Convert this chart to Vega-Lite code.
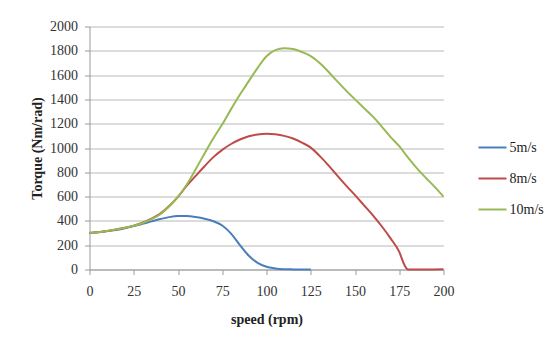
{
  "$schema": "https://vega.github.io/schema/vega-lite/v6.json",
  "autosize": "none",
  "width": 354,
  "height": 243,
  "padding": {"left": 89.5, "top": 26.5, "right": 111.5, "bottom": 78.5},
  "background": "white",
  "config": {
    "view": {"stroke": null},
    "font": "Times New Roman, Liberation Serif, serif",
    "axis": {"labelFont": "Times New Roman, Liberation Serif, serif", "titleFont": "Times New Roman, Liberation Serif, serif"},
    "legend": {"labelFont": "Times New Roman, Liberation Serif, serif"}
  },
  "data": {
    "values": [
      {"speed": 0, "torque": 300, "series": "5m/s"},
      {"speed": 5, "torque": 306, "series": "5m/s"},
      {"speed": 10, "torque": 316, "series": "5m/s"},
      {"speed": 15, "torque": 326, "series": "5m/s"},
      {"speed": 20, "torque": 340, "series": "5m/s"},
      {"speed": 25, "torque": 358, "series": "5m/s"},
      {"speed": 30, "torque": 376, "series": "5m/s"},
      {"speed": 35, "torque": 396, "series": "5m/s"},
      {"speed": 40, "torque": 415, "series": "5m/s"},
      {"speed": 45, "torque": 431, "series": "5m/s"},
      {"speed": 50, "torque": 440, "series": "5m/s"},
      {"speed": 55, "torque": 441, "series": "5m/s"},
      {"speed": 60, "torque": 432, "series": "5m/s"},
      {"speed": 65, "torque": 418, "series": "5m/s"},
      {"speed": 70, "torque": 397, "series": "5m/s"},
      {"speed": 75, "torque": 362, "series": "5m/s"},
      {"speed": 80, "torque": 295, "series": "5m/s"},
      {"speed": 85, "torque": 200, "series": "5m/s"},
      {"speed": 90, "torque": 113, "series": "5m/s"},
      {"speed": 95, "torque": 54, "series": "5m/s"},
      {"speed": 100, "torque": 22, "series": "5m/s"},
      {"speed": 105, "torque": 9, "series": "5m/s"},
      {"speed": 110, "torque": 3, "series": "5m/s"},
      {"speed": 115, "torque": 1, "series": "5m/s"},
      {"speed": 120, "torque": 0, "series": "5m/s"},
      {"speed": 125, "torque": 0, "series": "5m/s"},

      {"speed": 0, "torque": 300, "series": "8m/s"},
      {"speed": 10, "torque": 316, "series": "8m/s"},
      {"speed": 20, "torque": 343, "series": "8m/s"},
      {"speed": 25, "torque": 360, "series": "8m/s"},
      {"speed": 30, "torque": 385, "series": "8m/s"},
      {"speed": 35, "torque": 418, "series": "8m/s"},
      {"speed": 40, "torque": 460, "series": "8m/s"},
      {"speed": 45, "torque": 522, "series": "8m/s"},
      {"speed": 50, "torque": 598, "series": "8m/s"},
      {"speed": 55, "torque": 690, "series": "8m/s"},
      {"speed": 60, "torque": 770, "series": "8m/s"},
      {"speed": 65, "torque": 850, "series": "8m/s"},
      {"speed": 70, "torque": 925, "series": "8m/s"},
      {"speed": 75, "torque": 985, "series": "8m/s"},
      {"speed": 80, "torque": 1033, "series": "8m/s"},
      {"speed": 85, "torque": 1070, "series": "8m/s"},
      {"speed": 90, "torque": 1097, "series": "8m/s"},
      {"speed": 95, "torque": 1112, "series": "8m/s"},
      {"speed": 100, "torque": 1118, "series": "8m/s"},
      {"speed": 105, "torque": 1113, "series": "8m/s"},
      {"speed": 110, "torque": 1100, "series": "8m/s"},
      {"speed": 115, "torque": 1078, "series": "8m/s"},
      {"speed": 120, "torque": 1045, "series": "8m/s"},
      {"speed": 125, "torque": 1003, "series": "8m/s"},
      {"speed": 130, "torque": 935, "series": "8m/s"},
      {"speed": 135, "torque": 857, "series": "8m/s"},
      {"speed": 140, "torque": 772, "series": "8m/s"},
      {"speed": 145, "torque": 690, "series": "8m/s"},
      {"speed": 150, "torque": 612, "series": "8m/s"},
      {"speed": 155, "torque": 530, "series": "8m/s"},
      {"speed": 160, "torque": 448, "series": "8m/s"},
      {"speed": 165, "torque": 358, "series": "8m/s"},
      {"speed": 170, "torque": 258, "series": "8m/s"},
      {"speed": 175, "torque": 145, "series": "8m/s"},
      {"speed": 178, "torque": 35, "series": "8m/s"},
      {"speed": 180, "torque": 0, "series": "8m/s"},
      {"speed": 190, "torque": 0, "series": "8m/s"},
      {"speed": 200, "torque": 2, "series": "8m/s"},

      {"speed": 0, "torque": 300, "series": "10m/s"},
      {"speed": 10, "torque": 316, "series": "10m/s"},
      {"speed": 20, "torque": 343, "series": "10m/s"},
      {"speed": 25, "torque": 360, "series": "10m/s"},
      {"speed": 30, "torque": 383, "series": "10m/s"},
      {"speed": 35, "torque": 415, "series": "10m/s"},
      {"speed": 40, "torque": 455, "series": "10m/s"},
      {"speed": 45, "torque": 518, "series": "10m/s"},
      {"speed": 50, "torque": 600, "series": "10m/s"},
      {"speed": 55, "torque": 700, "series": "10m/s"},
      {"speed": 60, "torque": 825, "series": "10m/s"},
      {"speed": 65, "torque": 955, "series": "10m/s"},
      {"speed": 70, "torque": 1080, "series": "10m/s"},
      {"speed": 75, "torque": 1195, "series": "10m/s"},
      {"speed": 80, "torque": 1320, "series": "10m/s"},
      {"speed": 85, "torque": 1440, "series": "10m/s"},
      {"speed": 90, "torque": 1550, "series": "10m/s"},
      {"speed": 95, "torque": 1660, "series": "10m/s"},
      {"speed": 100, "torque": 1755, "series": "10m/s"},
      {"speed": 105, "torque": 1805, "series": "10m/s"},
      {"speed": 110, "torque": 1820, "series": "10m/s"},
      {"speed": 115, "torque": 1815, "series": "10m/s"},
      {"speed": 120, "torque": 1790, "series": "10m/s"},
      {"speed": 125, "torque": 1757, "series": "10m/s"},
      {"speed": 130, "torque": 1700, "series": "10m/s"},
      {"speed": 135, "torque": 1628, "series": "10m/s"},
      {"speed": 140, "torque": 1548, "series": "10m/s"},
      {"speed": 145, "torque": 1472, "series": "10m/s"},
      {"speed": 150, "torque": 1400, "series": "10m/s"},
      {"speed": 155, "torque": 1330, "series": "10m/s"},
      {"speed": 160, "torque": 1260, "series": "10m/s"},
      {"speed": 165, "torque": 1178, "series": "10m/s"},
      {"speed": 170, "torque": 1092, "series": "10m/s"},
      {"speed": 175, "torque": 1015, "series": "10m/s"},
      {"speed": 180, "torque": 920, "series": "10m/s"},
      {"speed": 185, "torque": 832, "series": "10m/s"},
      {"speed": 190, "torque": 755, "series": "10m/s"},
      {"speed": 195, "torque": 680, "series": "10m/s"},
      {"speed": 200, "torque": 600, "series": "10m/s"}
    ]
  },
  "mark": {"type": "line", "interpolate": "monotone", "strokeWidth": 2},
  "encoding": {
    "x": {
      "field": "speed",
      "type": "quantitative",
      "scale": {"domain": [0, 200], "nice": false},
      "axis": {
        "values": [0, 25, 50, 75, 100, 125, 150, 175, 200],
        "format": "d",
        "labelFlush": false,
        "title": "speed (rpm)",
        "titleFontSize": 14,
        "titleFontWeight": "bold",
        "titleColor": "#222222",
        "titlePadding": 14,
        "labelFontSize": 14,
        "labelColor": "#333333",
        "labelPadding": 10,
        "grid": false,
        "domainColor": "#9a9a9a",
        "tickColor": "#9a9a9a",
        "tickSize": 5
      }
    },
    "y": {
      "field": "torque",
      "type": "quantitative",
      "scale": {"domain": [0, 2000], "nice": false},
      "axis": {
        "values": [0, 200, 400, 600, 800, 1000, 1200, 1400, 1600, 1800, 2000],
        "format": "d",
        "labelFlush": false,
        "title": "Torque (Nm/rad)",
        "titleFontSize": 14,
        "titleFontWeight": "bold",
        "titleColor": "#222222",
        "titlePadding": 5,
        "labelFontSize": 14,
        "labelColor": "#333333",
        "labelPadding": 7,
        "gridColor": "#b8b8b8",
        "gridWidth": 1,
        "domainColor": "#9a9a9a",
        "tickColor": "#9a9a9a",
        "tickSize": 5
      }
    },
    "color": {
      "field": "series",
      "type": "nominal",
      "scale": {
        "domain": ["5m/s", "8m/s", "10m/s"],
        "range": ["#4a7ebb", "#be4b48", "#98b954"]
      },
      "legend": {
        "title": null,
        "orient": "none",
        "legendX": 388,
        "legendY": 106,
        "symbolType": "stroke",
        "symbolSize": 784,
        "symbolStrokeWidth": 2,
        "rowPadding": 9,
        "labelFontSize": 14,
        "labelColor": "#222222",
        "labelOffset": 2
      }
    }
  }
}
